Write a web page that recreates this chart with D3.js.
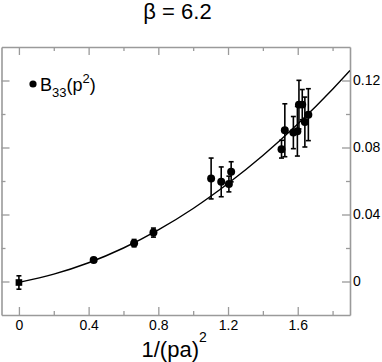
<!DOCTYPE html>
<html>
<head>
<meta charset="utf-8">
<script src="https://d3js.org/d3.v7.min.js"></script>
<style>
  body { margin: 0; background: #fff; }
  svg { display: block; font-family: "Liberation Sans", Arial, sans-serif; }
</style>
</head>
<body>
<svg id="chart" width="382" height="362"></svg>
<script>
//DATA

//lattice points: x = 1/(pa)^2, y = B33(p^2), err = error bar half height
var px = [0, 0.429, 0.661, 0.772, 1.103, 1.161, 1.205, 1.218, 1.507, 1.526, 1.575, 1.598, 1.607, 1.626, 1.641, 1.661];
var py = [-0.0006, 0.0129, 0.0229, 0.0292, 0.0615, 0.0595, 0.0582, 0.0655, 0.0790, 0.0903, 0.0889, 0.0897, 0.1056, 0.1056, 0.0952, 0.0996];
var perr = [0.004, 0.0004, 0.0022, 0.0027, 0.0122, 0.0089, 0.0047, 0.0060, 0.0053, 0.0158, 0.0096, 0.0148, 0.0145, 0.0090, 0.0149, 0.0155];
//first point is the extrapolated one, drawn as a square
var pshape = ["square", "circle", "circle", "circle", "circle", "circle", "circle", "circle",
              "circle", "circle", "circle", "circle", "circle", "circle", "circle", "circle"];

//fit curve
var fitX = [0, 0.2, 0.4, 0.6, 0.8, 1.0, 1.2, 1.4, 1.6, 1.8, 1.9];
var fitY = [-0.0005, 0.0044, 0.0112, 0.0200, 0.0308, 0.0436, 0.0585, 0.0752, 0.0940, 0.1148, 0.1260];

var xMajor = [0, 0.4, 0.8, 1.2, 1.6];
var xMinor = [0.2, 0.6, 1.0, 1.4, 1.8];
var xLabels = ["0", "0.4", "0.8", "1.2", "1.6"];
var yMajor = [0, 0.04, 0.08, 0.12];
var yMinor = [0.02, 0.06, 0.10];
var yLabels = ["0", "0.04", "0.08", "0.12"];

var axisColor = "#9a9a9a";

var svg = d3.select("#chart");

var x = d3.scaleLinear().domain([-0.1, 1.9]).range([1.5, 350]);
var y = d3.scaleLinear().domain([-0.02, 0.14]).range([315, 47]);

//GRAPHICAL FUNCTIONS

//draws one side of the frame with inward ticks
function drawAxis(axisFn, scale, transform, major, minor, labels) {
    var gMaj = svg.append("g")
        .attr("transform", transform)
        .call(axisFn(scale).tickValues(major).tickSizeInner(-8).tickSizeOuter(0)
            .tickFormat(function(d, i) { return labels ? labels[i] : ""; }));
    var gMin = svg.append("g")
        .attr("transform", transform)
        .call(axisFn(scale).tickValues(minor).tickSizeInner(-4).tickSizeOuter(0)
            .tickFormat(""));
    [gMaj, gMin].forEach(function(g) {
        g.select(".domain").attr("stroke", axisColor).attr("stroke-width", 1.6);
        g.selectAll(".tick line").attr("stroke", axisColor).attr("stroke-width", 1.3);
    });
    gMin.select(".domain").remove();
    return gMaj;
}

function drawFrame() {
    var bottom = drawAxis(d3.axisBottom, x, "translate(0,315)", xMajor, xMinor, xLabels);
    bottom.selectAll(".tick text")
        .attr("y", 5)
        .attr("dy", "0.71em")
        .attr("fill", "#000")
        .style("font-size", "14px")
        .style("font-family", "Liberation Sans, Arial, sans-serif");
    drawAxis(d3.axisTop, x, "translate(0,47)", xMajor, xMinor, null);
    drawAxis(d3.axisLeft, y, "translate(1.5,0)", yMajor, yMinor, null);
    var right = drawAxis(d3.axisRight, y, "translate(350,0)", yMajor, yMinor, yLabels);
    right.selectAll(".tick text")
        .attr("x", 3)
        .attr("fill", "#000")
        .style("font-size", "14px")
        .style("font-family", "Liberation Sans, Arial, sans-serif");
}

function drawCurve() {
    svg.append("clipPath").attr("id", "plotClip")
        .append("rect").attr("x", 1.5).attr("y", 47).attr("width", 348.5).attr("height", 268);
    var line = d3.line()
        .x(function(d, i) { return x(fitX[i]); })
        .y(function(d, i) { return y(fitY[i]); })
        .curve(d3.curveMonotoneX);
    svg.append("path")
        .datum(fitX)
        .attr("clip-path", "url(#plotClip)")
        .attr("d", line)
        .attr("fill", "none")
        .attr("stroke", "#000")
        .attr("stroke-width", 1.4);
}

function drawPoints() {
    var pts = px.map(function(v, i) { return {x: v, y: py[i], e: perr[i], shape: pshape[i]}; });
    var g = svg.append("g");
    var bars = g.selectAll("g.bar").data(pts).enter().append("g").attr("class", "bar");
    bars.append("line")
        .attr("x1", function(d) { return x(d.x); })
        .attr("x2", function(d) { return x(d.x); })
        .attr("y1", function(d) { return y(d.y - d.e); })
        .attr("y2", function(d) { return y(d.y + d.e); });
    bars.append("line")
        .attr("x1", function(d) { return x(d.x) - 2.5; })
        .attr("x2", function(d) { return x(d.x) + 2.5; })
        .attr("y1", function(d) { return y(d.y + d.e); })
        .attr("y2", function(d) { return y(d.y + d.e); });
    bars.append("line")
        .attr("x1", function(d) { return x(d.x) - 2.5; })
        .attr("x2", function(d) { return x(d.x) + 2.5; })
        .attr("y1", function(d) { return y(d.y - d.e); })
        .attr("y2", function(d) { return y(d.y - d.e); });
    bars.selectAll("line").attr("stroke", "#000").attr("stroke-width", 1.6);

    g.selectAll("path.mark").data(pts).enter().append("path")
        .attr("class", "mark")
        .attr("transform", function(d) { return "translate(" + x(d.x) + "," + y(d.y) + ")"; })
        .attr("d", function(d) {
            var sym = d.shape === "square" ? d3.symbolSquare : d3.symbolCircle;
            return d3.symbol().type(sym).size(d.shape === "square" ? 44 : 50)();
        })
        .attr("fill", "#000");
}

function drawText() {
    svg.append("text")
        .attr("x", 177.5).attr("y", 18.5)
        .attr("text-anchor", "middle")
        .style("font-size", "22px")
        .text("\u03b2 = 6.2");

    var xl = svg.append("text")
        .attr("x", 141.5).attr("y", 357)
        .style("font-size", "22px");
    xl.append("tspan").text("1/(pa)");
    xl.append("tspan").attr("dy", -15).style("font-size", "14px").text("2");

    //legend
    svg.append("circle").attr("cx", 33).attr("cy", 84).attr("r", 3.6).attr("fill", "#000");
    var lg = svg.append("text")
        .attr("x", 40).attr("y", 91)
        .style("font-size", "18px");
    lg.append("tspan").text("B");
    lg.append("tspan").attr("dy", 6).style("font-size", "13px").text("33");
    lg.append("tspan").attr("dy", -6).text("(p");
    lg.append("tspan").attr("dy", -8).style("font-size", "13px").text("2");
    lg.append("tspan").attr("dy", 8).text(")");
}

drawFrame();
drawCurve();
drawPoints();
drawText();
</script>
</body>
</html>
